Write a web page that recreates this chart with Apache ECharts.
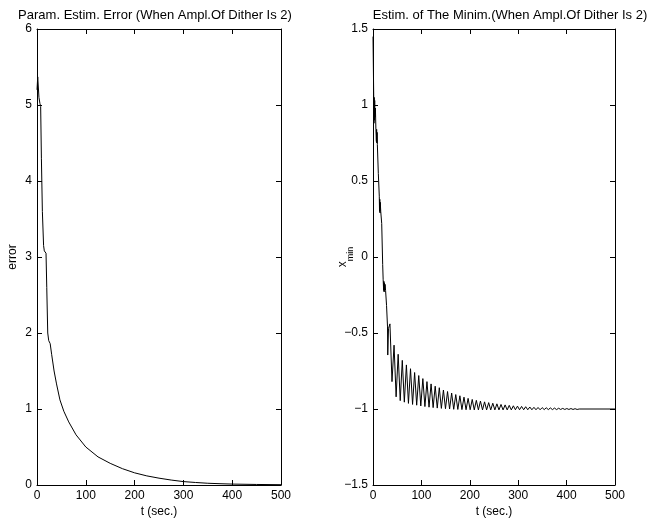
<!DOCTYPE html>
<html>
<head>
<meta charset="utf-8">
<script src="https://cdn.jsdelivr.net/npm/echarts@6/dist/echarts.min.js"></script>
<style>html,body{margin:0;padding:0;background:#fff;}#c{width:648px;height:518px;}</style>
</head>
<body>
<div id="c"></div>
<script>
// ---- Data ----
const titles = ['Param. Estim. Error (When Ampl.Of Dither Is 2)', 'Estim. of The Minim.(When Ampl.Of Dither Is 2)'];
const xTicks = [0, 100, 200, 300, 400, 500];
const errTicks = [0, 1, 2, 3, 4, 5, 6];
const xminTicks = [-1.5, -1, -0.5, 0, 0.5, 1, 1.5];

// left panel: parameter estimation error
const errT = [0, 1.5, 4, 6, 7.5, 9, 11, 13.5, 15, 18.5, 20, 22, 24, 27, 30, 35, 40, 47, 55, 65, 80, 100, 125, 150, 175, 200, 225, 250, 275, 300, 325, 350, 375, 400, 450, 500];
const errV = [5.2, 5.37, 5.1, 5.02, 4.98, 4.3, 3.6, 3.15, 3.08, 3.05, 2.6, 2.0, 1.9, 1.86, 1.72, 1.5, 1.33, 1.12, 0.97, 0.83, 0.66, 0.50, 0.37, 0.285, 0.215, 0.16, 0.12, 0.09, 0.065, 0.045, 0.033, 0.023, 0.017, 0.012, 0.007, 0.004];

// right panel: estimate of the minimiser
// initial transient (t < 35)
const xminEarlyT = [0, 1.5, 2, 2.5, 3, 3.5, 4, 5, 6, 7, 7.5, 8, 8.5, 9, 11, 13, 13.5, 14, 14.5, 15, 16, 18, 20, 21, 22, 22.5, 23, 23.5, 24, 25, 26, 28, 30, 30.5, 32];
const xminEarlyV = [1.45, 1.05, 0.88, 1.05, 0.9, 1.03, 0.92, 0.98, 0.84, 0.76, 0.84, 0.75, 0.82, 0.74, 0.55, 0.40, 0.30, 0.38, 0.29, 0.36, 0.30, 0.22, -0.05, -0.15, -0.22, -0.16, -0.23, -0.17, -0.22, -0.18, -0.22, -0.32, -0.46, -0.645, -0.47];
// oscillation peaks (upper envelope)
const xminPeakT = [35, 43.5, 52, 60.5, 69, 77.5, 86, 94.5, 103, 111.5, 120, 128.5, 137, 145.5, 154, 162.5, 171, 179.5, 188, 196.5, 205, 213.5, 222, 230.5, 239, 247.5, 256, 264.5, 273, 281.5, 290, 298.5, 307, 315.5, 324, 332.5, 341, 349.5, 358, 366.5, 375, 383.5, 392, 400.5, 409, 417.5];
const xminPeakV = [-0.44, -0.58, -0.64, -0.68, -0.71, -0.735, -0.76, -0.78, -0.80, -0.82,
  -0.835, -0.85, -0.86, -0.875, -0.885, -0.895, -0.905, -0.913, -0.922, -0.93,
  -0.937, -0.943, -0.948, -0.953, -0.958, -0.962, -0.966, -0.97, -0.973, -0.976,
  -0.979, -0.981, -0.983, -0.985, -0.987, -0.989, -0.99, -0.991, -0.992, -0.993,
  -0.994, -0.995, -0.996, -0.997, -0.997, -0.998];
// oscillation troughs (lower envelope)
const xminTroughT = [39.25, 47.75, 56.25, 64.75, 73.25, 81.75, 90.25, 98.75, 107.25, 115.75, 124.25, 132.75, 141.25, 149.75, 158.25, 166.75, 175.25, 183.75, 192.25, 200.75, 209.25, 217.75, 226.25, 234.75, 243.25, 251.75, 260.25, 268.75, 277.25, 285.75, 294.25, 302.75, 311.25, 319.75, 328.25, 336.75, 345.25, 353.75, 362.25, 370.75, 379.25, 387.75, 396.25, 404.75, 413.25, 421.75];
const xminTroughV = [-0.82, -0.92, -0.945, -0.955, -0.963, -0.97, -0.975, -0.98, -0.984, -0.988,
  -0.991, -0.994, -0.996, -0.998, -1.0, -1.002, -1.003, -1.004, -1.005, -1.005,
  -1.006, -1.006, -1.006, -1.006, -1.006, -1.006, -1.006, -1.006, -1.006, -1.006,
  -1.005, -1.005, -1.005, -1.005, -1.005, -1.005, -1.005, -1.004, -1.004, -1.004,
  -1.004, -1.003, -1.003, -1.003, -1.003, -1.003];
// settled tail
const xminTailT = [426, 500];
const xminTailV = [-1.0, -1.0];

// ---- Build series data from the arrays ----
function pairs(t, v) { return t.map((x, i) => [x, v[i]]); }
const xminData = pairs(xminEarlyT, xminEarlyV);
xminPeakT.forEach((t, i) => {
  xminData.push([t, xminPeakV[i]]);
  xminData.push([xminTroughT[i], xminTroughV[i]]);
});
pairs(xminTailT, xminTailV).forEach(p => xminData.push(p));

// ---- Chart ----
const FONT = '"Liberation Sans", Arial, Helvetica, sans-serif';
const fmt = v => String(v).replace('-', '\u2212');

function axis(gridIndex, position, ticks, showLabel, name, extra) {
  const min = ticks[0], max = ticks[ticks.length - 1];
  return Object.assign({
    type: 'value', gridIndex, position, min, max, interval: ticks[1] - ticks[0],
    axisLine: { show: true, onZero: false, lineStyle: { color: '#000', width: 1 } },
    axisTick: { show: true, inside: true, length: 5, lineStyle: { color: '#000' } },
    axisLabel: { show: showLabel, color: '#000', fontFamily: FONT, fontSize: 12, margin: 5, formatter: fmt, showMinLabel: true, showMaxLabel: true, hideOverlap: false },
    splitLine: { show: false },
    nameMoveOverlap: false,
    name: name || '', nameTextStyle: { color: '#000', fontFamily: FONT, fontSize: 12 }
  }, extra || {});
}

const chart = echarts.init(document.getElementById('c'), null, { renderer: 'canvas' });
chart.setOption({
  animation: false,
  backgroundColor: '#fff',
  title: [
    { text: titles[0], left: 150, top: 4, textAlign: 'center', textStyle: { color: '#000', fontFamily: FONT, fontSize: 13, fontWeight: 'normal' } },
    { text: titles[1], left: 505, top: 4, textAlign: 'center', textStyle: { color: '#000', fontFamily: FONT, fontSize: 13, fontWeight: 'normal' } }
  ],
  grid: [
    { left: 37, top: 29, width: 244, height: 456, outerBoundsMode: 'none', containLabel: false },
    { left: 373, top: 29, width: 242, height: 456, outerBoundsMode: 'none', containLabel: false }
  ],
  xAxis: [
    axis(0, 'bottom', xTicks, true, 't (sec.)', { nameLocation: 'middle', nameGap: 21 }),
    axis(1, 'bottom', xTicks, true, 't (sec.)', { nameLocation: 'middle', nameGap: 21 }),
    axis(0, 'top', xTicks, false),
    axis(1, 'top', xTicks, false)
  ],
  yAxis: [
    axis(0, 'left', errTicks, true, 'error', { nameLocation: 'middle', nameGap: 18, nameRotate: 90 }),
    axis(1, 'left', xminTicks, true, '{a|x}{b|min}', {
      nameLocation: 'middle', nameGap: 18, nameRotate: 90,
      nameTextStyle: { color: '#000', fontFamily: FONT, fontSize: 12,
        rich: { a: { fontFamily: FONT, fontSize: 12, color: '#000', verticalAlign: 'top', lineHeight: 18 },
                b: { fontFamily: FONT, fontSize: 9, color: '#000', verticalAlign: 'bottom', lineHeight: 18, padding: [6, 0, 0, 0] } } }
    }),
    axis(0, 'right', errTicks, false),
    axis(1, 'right', xminTicks, false)
  ],
  series: [
    { type: 'line', xAxisIndex: 0, yAxisIndex: 0, data: pairs(errT, errV), showSymbol: false, lineStyle: { color: '#000', width: 1 } },
    { type: 'line', xAxisIndex: 1, yAxisIndex: 1, data: xminData, showSymbol: false, lineStyle: { color: '#000', width: 1 } }
  ]
});
</script>
</body>
</html>
